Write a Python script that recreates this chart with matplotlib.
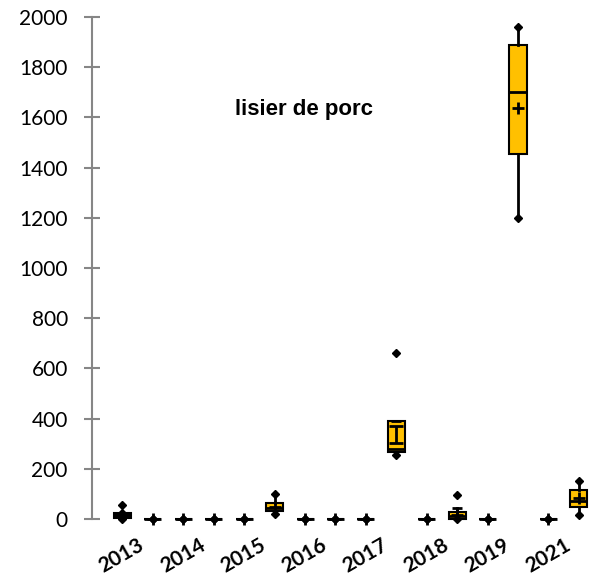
import matplotlib.pyplot as plt

years = ['2013', '2014', '2015', '2016', '2017', '2018', '2019', '2021']

# first series (black) per year
a_min = [0, 0, 0, 0, 0, 0, 0, 0]
a_q1 = [3, 0, 0, 0, 0, 0, 0, 0]
a_med = [10, 0, 0, 0, 0, 0, 0, 0]
a_q3 = [24, 0, 0, 0, 0, 0, 0, 0]
a_max = [24, 0, 0, 0, 0, 0, 0, 0]
a_mean = [12, 0, 0, 0, 0, 0, 0, 0]
a_out = [[55], [], [], [], [], [], [], []]

# lisier de porc (orange) per year
p_min = [0, 0, 18, 0, 255, 0, 1198, 16]
p_q1 = [0, 0, 30, 0, 265, 0, 1454, 49]
p_med = [0, 0, 45, 0, 280, 12, 1703, 73]
p_q3 = [0, 0, 64, 0, 390, 28, 1888, 116]
p_max = [0, 0, 100, 0, 390, 45, 1961, 151]
p_mean = [0, 0, 48, 0, 336, 14, 1639, 82]
p_out = [[], [], [], [], [660], [96], [], []]
p_err = [0, 0, 0, 0, 34, 0, 0, 0]
p_capmark = [1, 1, 1, 1, 0, 0, 1, 1]

orange = '#FFC000'

fig = plt.figure(figsize=(5.94, 5.76), dpi=100)
ax = fig.add_axes([0.155, 0.099, 0.84, 0.8715])

def stats(mn, q1, med, q3, mx, mean, out):
    res = []
    for i in range(len(mn)):
        res.append(dict(whislo=mn[i], q1=q1[i], med=med[i], q3=q3[i],
                        whishi=mx[i], mean=mean[i], fliers=out[i]))
    return res

pos_a = [2 * i + 1 for i in range(len(years))]
pos_p = [2 * i + 2 for i in range(len(years))]

common = dict(widths=0.56, patch_artist=True, showcaps=False, showmeans=False,
              whiskerprops=dict(color='black', lw=2),
              medianprops=dict(color='black', lw=2),
              flierprops=dict(marker='D', markerfacecolor='black',
                              markeredgecolor='black', markersize=4.5),
              manage_ticks=False)

ba = ax.bxp(stats(a_min, a_q1, a_med, a_q3, a_max, a_mean, a_out), positions=pos_a,
            boxprops=dict(facecolor='black', edgecolor='black', lw=1.5), **common)
bp = ax.bxp(stats(p_min, p_q1, p_med, p_q3, p_max, p_mean, p_out), positions=pos_p,
            boxprops=dict(facecolor=orange, edgecolor='black', lw=1.5), **common)

for art in ba['boxes'] + bp['boxes'] + ba['medians'] + bp['medians'] + ba['whiskers'] + bp['whiskers'] + ba['fliers'] + bp['fliers']:
    art.set_clip_on(False)

# whisker end markers and means
ax.plot(pos_a, a_min, 'D', color='black', ms=4.5, clip_on=False, zorder=4)
ax.plot(pos_a, a_max, 'D', color='black', ms=4.5, clip_on=False, zorder=4)
ax.plot(pos_a, a_mean, '+', color='black', ms=8, mew=2, clip_on=False, zorder=4)
ax.plot(pos_p, p_min, 'D', color='black', ms=4.5, clip_on=False, zorder=4)
for x, mx, c in zip(pos_p, p_max, p_capmark):
    if c:
        ax.plot(x, mx, 'D', color='black', ms=4.5, clip_on=False, zorder=4)
    else:
        ax.plot(x, mx, '_', color='black', ms=7, mew=2, zorder=4)
for x, m, e in zip(pos_p, p_mean, p_err):
    if e:
        ax.errorbar(x, m, yerr=e, color='black', lw=2, capsize=5, capthick=2, zorder=4)
    else:
        ax.plot(x, m, '+', color='black', ms=8, mew=2, clip_on=False, zorder=4)

ax.set_xlim(0, 16.4)
ax.set_ylim(0, 2000)
ax.set_yticks(range(0, 2001, 200))
ax.set_xticks([])
for s in ['top', 'right', 'bottom']:
    ax.spines[s].set_visible(False)
ax.spines['left'].set_color('#868686')
ax.spines['left'].set_linewidth(1.5)
ax.tick_params(axis='y', direction='inout', length=11, width=1.5, color='#868686',
               pad=12, labelsize=15)
for lab in ax.get_yticklabels():
    lab.set_fontfamily('Lato')

for i, y in enumerate(years):
    ax.text((pos_a[i] + pos_p[i]) / 2, -62, y, rotation=30, ha='right', va='top',
            rotation_mode='anchor', fontsize=15, fontweight='bold', family='Lato')

ax.text(0.425, 0.815, 'lisier de porc', transform=ax.transAxes, ha='center', va='center',
        fontsize=16, fontweight='bold', family='Liberation Sans')

fig.savefig('out.png', dpi=100)
